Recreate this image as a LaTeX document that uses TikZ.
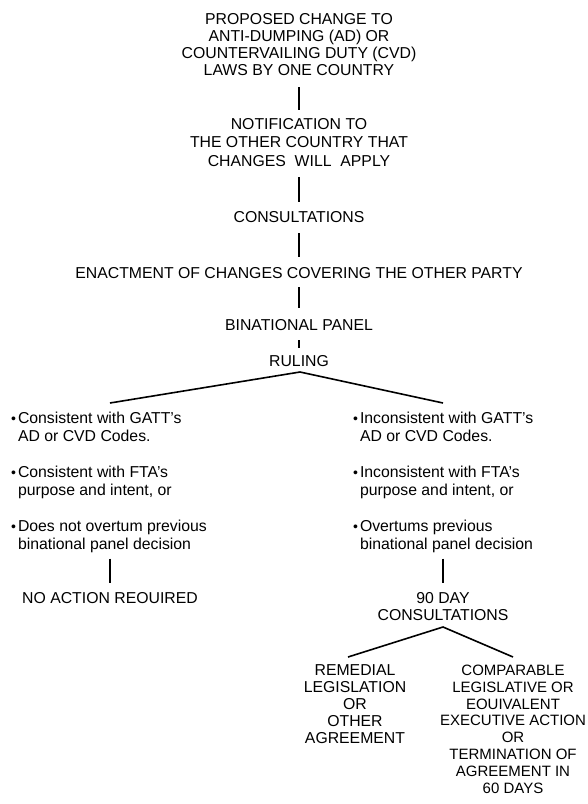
\documentclass[tikz,border=0pt]{standalone}
\usepackage{fontspec}
\setmainfont{Liberation Sans}
\newcommand{\bul}{\llap{\fontsize{14}{14}\selectfont\textbullet\hspace{2pt}}}
\begin{document}
\begin{tikzpicture}[x=1pt,y=-1pt,
  every node/.style={inner sep=0pt, outer sep=0pt, font=\fontsize{15.8}{17}\selectfont},
  block/.style={align=center, anchor=north},
  blist/.style={align=left, anchor=north west, font=\fontsize{15.8}{18}\selectfont},
  conn/.style={line width=1.6pt},
  link/.style 2 args={conn, shorten <=#1, shorten >=#2}]
\useasboundingbox (0,0) rectangle (588,804);

\node[block] (proposal) at (299,13) {PROPOSED CHANGE TO\\ANTI-DUMPING (AD) OR\\COUNTERVAILING DUTY (CVD)\\LAWS BY ONE COUNTRY};
\node[block, font=\fontsize{15.8}{18.5}\selectfont] (notify) at (299,118) {NOTIFICATION TO\\THE OTHER COUNTRY THAT\\CHANGES\ \ WILL\ \ APPLY};
\node[block] (consult) at (299,211) {CONSULTATIONS};
\node[block] (enact) at (299,267) {ENACTMENT OF CHANGES COVERING THE OTHER PARTY};
\node[block] (panel) at (299,319) {BINATIONAL PANEL};
\node[block] (ruling) at (299,355) {RULING};

\node[blist] (consistent) at (18,412) {\bul Consistent with GATT's\\AD or CVD Codes.\\[18pt]\bul Consistent with FTA's\\purpose and intent, or\\[18pt]\bul Does not overtum previous\\binational panel decision};
\node[blist] (inconsistent) at (360,412) {\bul Inconsistent with GATT's\\AD or CVD Codes.\\[18pt]\bul Inconsistent with FTA's\\purpose and intent, or\\[18pt]\bul Overtums previous\\binational panel decision};

\node[block] (noaction) at (110,592) {NO ACTION REOUIRED};
\node[block] (ninety) at (443,592) {90 DAY\\CONSULTATIONS};
\node[block] (remedial) at (355,665) {REMEDIAL\\LEGISLATION\\OR\\OTHER\\AGREEMENT};
\node[block, font=\fontsize{15}{16.8}\selectfont] (comparable) at (513,665) {COMPARABLE\\LEGISLATIVE OR\\EOUIVALENT\\EXECUTIVE ACTION\\OR\\TERMINATION OF\\AGREEMENT IN\\60 DAYS};

\draw[link={12pt}{8pt}] (proposal.south) -- (notify.north);
\draw[link={11pt}{9pt}] (notify.south) -- (consult.north);
\draw[link={11pt}{10pt}] (consult.south) -- (enact.north);
\draw[link={9pt}{11pt}] (enact.south) -- (panel.north);
\draw[link={10pt}{7pt}] (panel.south) -- (ruling.north);

\coordinate (rfork) at (300,372);
\coordinate (lend) at (110,403);
\coordinate (rend) at (443,403);
\draw[conn] (lend) -- (rfork) -- (rend);

\draw[link={6pt}{9pt}] (consistent.south -| noaction.north) -- (noaction.north);
\draw[link={6pt}{9pt}] (inconsistent.south -| ninety.north) -- (ninety.north);

\coordinate (nfork) at (443,627);
\coordinate (nlend) at (348,657);
\coordinate (nrend) at (513,657);
\draw[conn] (nlend) -- (nfork) -- (nrend);
\end{tikzpicture}
\end{document}
